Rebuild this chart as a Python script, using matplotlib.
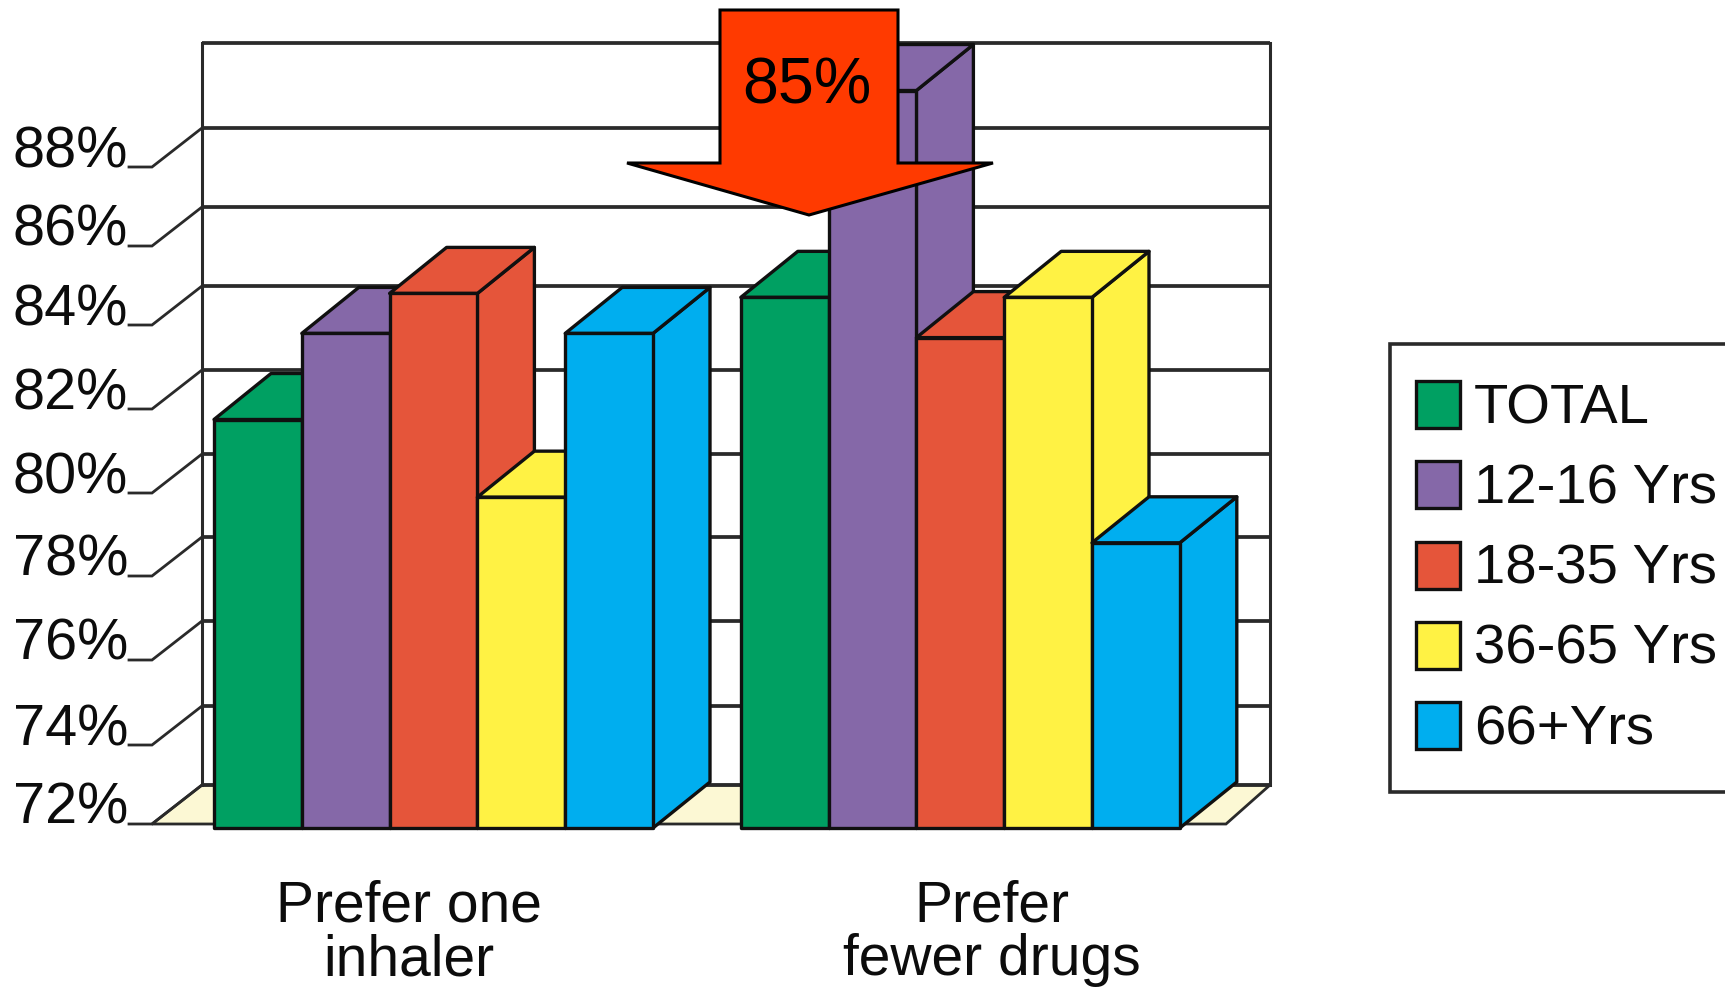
import numpy as np
import matplotlib
matplotlib.use("Agg")
import matplotlib.pyplot as plt
from matplotlib.patches import Polygon, Rectangle
from matplotlib.transforms import Affine2D

plt.rcParams["font.family"] = ["Liberation Sans", "DejaVu Sans"]

# Chart content
groups = ["Prefer one\ninhaler", "Prefer\nfewer drugs"]
series = ["TOTAL", "12-16 Yrs", "18-35 Yrs", "36-65 Yrs", "66+Yrs"]
one_inhaler = [81.75, 83.8, 84.8, 79.9, 83.8]
fewer_drugs = [84.7, 89.8, 83.7, 84.7, 78.8]
tick_values = [72, 74, 76, 78, 80, 82, 84, 86, 88]
callout = "85%"

# Styling
colors = ["#00A062", "#8568A8", "#E5553A", "#FFF244", "#00AEEF"]
edge = "#101010"
grid_color = "#2A2A2A"
floor_color = "#FCF8D4"
arrow_color = "#FF3A00"

W, H = 1725, 989
BAR_PX = 87.8          # one bar width in pixels, the x unit of the axes
ORIGIN_PX = 214        # pixel column of x = 0
DEPTH = (57, 46)       # receding offset of the bars
WALL_DEPTH = (50, 39)  # receding offset of the back wall

# The printed value axis is slightly uneven, so it gets its own scale.
scale_values = [68, 72, 74, 76, 78, 80, 82, 84, 86, 88, 90, 92]
scale_heights = [-165, 0, 79, 164, 248, 331, 415, 499, 578, 657, 742, 824]


def to_height(v):
    return np.interp(v, scale_values, scale_heights)


def to_value(h):
    return np.interp(h, scale_heights, scale_values)


fig = plt.figure(figsize=(W / 100, H / 100), dpi=100)
ax = fig.add_axes([0, 0, 1, 1])
ax.set_yscale("function", functions=(to_height, to_value))
ax.set_xlim(-ORIGIN_PX / BAR_PX, (W - ORIGIN_PX) / BAR_PX)
ax.set_ylim(68, 92)
ax.axis("off")

pixels = Affine2D().scale(1, -1).translate(0, H)


def px_x(p):
    return (p - ORIGIN_PX) / BAR_PX


def shift(x, v, offset):
    """Move a data point by a pixel offset, for the oblique projection."""
    p = ax.transData.transform((x, v)) + np.asarray(offset, dtype=float)
    return tuple(ax.transData.inverted().transform(p))


# Floor and back wall
floor_left, floor_right = px_x(152), px_x(1226)
back_right = shift(px_x(1226), 72, (44, WALL_DEPTH[1]))
ax.add_patch(Polygon([(floor_left, 72), (floor_right, 72), back_right,
                      shift(floor_left, 72, WALL_DEPTH)],
                     closed=True, fc=floor_color, ec=grid_color, lw=2, zorder=1))

for v in tick_values + [90]:
    bx, by = shift(floor_left, v, WALL_DEPTH)
    ax.plot([bx, back_right[0]], [by, by], color=grid_color, lw=2.7,
            solid_capstyle="butt", zorder=2)
    if v != 90:
        ax.plot([px_x(129), floor_left, bx], [v, v, by], color=grid_color,
                lw=2, solid_joinstyle="miter", zorder=2)
        ax.annotate(f"{v}%", (px_x(128), v), ha="right", va="baseline",
                    fontsize=41.5, color="#0C0C0C", zorder=3)

wall_bottom = shift(floor_left, 72, WALL_DEPTH)
wall_top = shift(floor_left, 90, WALL_DEPTH)
for wx in (wall_bottom[0], back_right[0]):
    ax.plot([wx, wx], [wall_bottom[1], wall_top[1]], color=grid_color, lw=2.2,
            zorder=2)

# Oblique bars; painted left to right so that nearer faces overlap correctly
base = shift(0, 72, (0, -4))[1]
z = 5
for start, values in ((0, one_inhaler), (6, fewer_drugs)):
    for i, v in enumerate(values):
        x0, x1 = start + i, start + i + 1
        style = dict(closed=True, fc=colors[i], ec=edge, lw=2.4,
                     joinstyle="round", zorder=z)
        ax.add_patch(Polygon([(x1, base), (x1, v), shift(x1, v, DEPTH),
                              shift(x1, base, DEPTH)], **style))
        ax.add_patch(Polygon([(x0, v), (x1, v), shift(x1, v, DEPTH),
                              shift(x0, v, DEPTH)], **style))
        ax.add_patch(Polygon([(x0, base), (x1, base), (x1, v), (x0, v)], **style))
        z += 1

# Group captions
for label, centre in zip(groups, (409, 992)):
    for line, baseline in zip(label.split("\n"), (921, 975)):
        ax.text(centre, baseline, line, transform=pixels, ha="center",
                va="baseline", fontsize=41, color="#0C0C0C", zorder=30)

# Callout arrow
arrow_shape = [(720, 10), (898, 10), (898, 163), (993, 163), (809, 215),
               (627, 163), (720, 163)]
ax.add_patch(Polygon(arrow_shape, closed=True, transform=pixels, fc=arrow_color,
                     ec="black", lw=2.2, joinstyle="miter", zorder=40))
ax.text(807, 103, callout, transform=pixels, ha="center", va="baseline",
        fontsize=46.5, color="black", zorder=41)

# Legend box runs off the right edge of the canvas
ax.add_patch(Rectangle((1390, 344), 400, 448, transform=pixels, fc="white",
                       ec=grid_color, lw=2.6, clip_on=True, zorder=20))
for i, (name, c) in enumerate(zip(series, colors)):
    top = 381 + 80.3 * i
    ax.add_patch(Rectangle((1416, top), 44, 47, transform=pixels, fc=c, ec=edge,
                           lw=2.4, zorder=21))
    ax.text(1474, top + 42, name, transform=pixels, ha="left", va="baseline",
            fontsize=40.5, color="#0C0C0C", zorder=21)

fig.savefig("out.png", dpi=100, facecolor="white")
